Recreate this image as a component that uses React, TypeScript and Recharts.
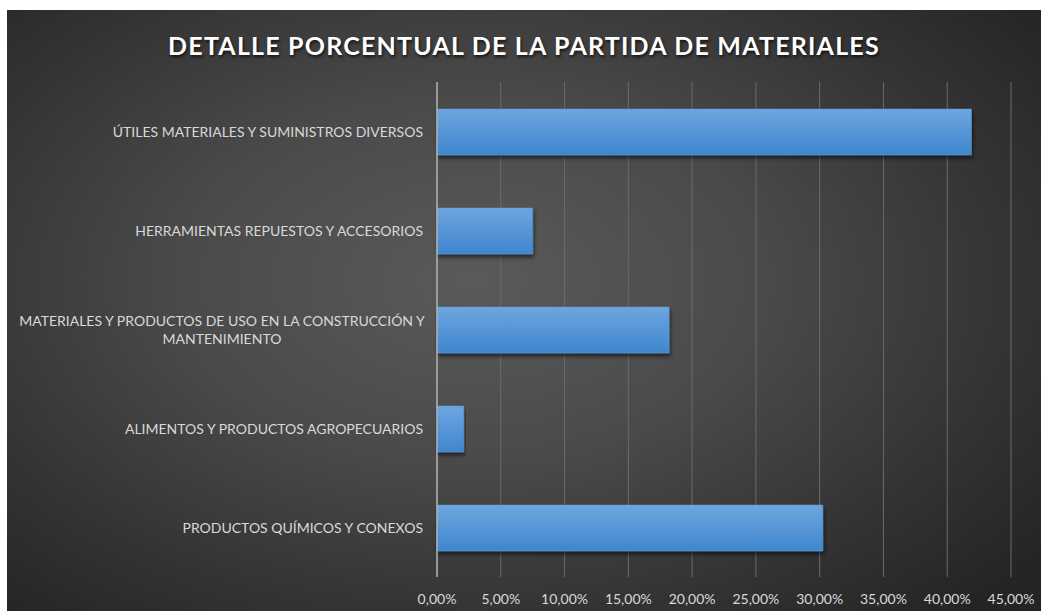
import { BarChart, Bar, XAxis, YAxis, CartesianGrid } from "recharts";

const categories = [
  "ÚTILES MATERIALES Y SUMINISTROS DIVERSOS",
  "HERRAMIENTAS REPUESTOS Y ACCESORIOS",
  "MATERIALES Y PRODUCTOS DE USO EN LA CONSTRUCCIÓN Y MANTENIMIENTO",
  "ALIMENTOS Y PRODUCTOS AGROPECUARIOS",
  "PRODUCTOS QUÍMICOS Y CONEXOS",
];
const percentages = [41.9, 7.5, 18.2, 2.1, 30.25];
const xTicks = [0, 5, 10, 15, 20, 25, 30, 35, 40, 45];

// label lines, wrapped like the original
const labelLines: Record<string, string[]> = {
  "MATERIALES Y PRODUCTOS DE USO EN LA CONSTRUCCIÓN Y MANTENIMIENTO": [
    "MATERIALES Y PRODUCTOS DE USO EN LA CONSTRUCCIÓN Y",
    "MANTENIMIENTO",
  ],
};

const data = categories.map((name, i) => ({ name, value: percentages[i] }));

const FONT = "Lato, 'Open Sans', sans-serif";

const CategoryTick = (props: any) => {
  const { x, y, payload } = props;
  const lines = labelLines[payload.value];
  if (lines) {
    const cx = x - 207;
    return (
      <text fill="#d9d9d9" fontSize={14} fontFamily={FONT} textAnchor="middle">
        <tspan x={cx} y={y - 4}>{lines[0]}</tspan>
        <tspan x={cx} y={y + 14}>{lines[1]}</tspan>
      </text>
    );
  }
  return (
    <text x={x - 6} y={y + 5} fill="#d9d9d9" fontSize={14} fontFamily={FONT} textAnchor="end">
      {payload.value}
    </text>
  );
};

const fmt = (v: number) => `${v.toFixed(2).replace(".", ",")}%`;

export default function App() {
  return (
    <div
      style={{
        position: "absolute",
        left: 7,
        top: 10,
        width: 1034,
        height: 601,
        background:
          "radial-gradient(ellipse 70% 75% at 45% 45%, #5a5a5a 0%, #4a4a4a 40%, #333333 75%, #242424 100%)",
        overflow: "hidden",
      }}
    >
      <div
        style={{
          position: "absolute",
          top: 20,
          left: 0,
          width: 1034,
          textAlign: "center",
          color: "#ffffff",
          fontFamily: FONT,
          fontWeight: 700,
          fontSize: 25,
          letterSpacing: 1.2,
          textShadow: "1px 2px 3px rgba(0,0,0,0.7)",
        }}
      >
        DETALLE PORCENTUAL DE LA PARTIDA DE MATERIALES
      </div>
      <BarChart
        width={1034}
        height={601}
        layout="vertical"
        data={data}
        margin={{ top: 72, right: 30, left: 0, bottom: 0 }}
        barSize={46}
        style={{ position: "absolute", left: 0, top: 0 }}
      >
        <defs>
          <linearGradient id="barFill" x1="0" y1="0" x2="0" y2="1">
            <stop offset="0%" stopColor="#6ea6de" />
            <stop offset="100%" stopColor="#3f86cf" />
          </linearGradient>
          <filter id="barShadow" x="-5%" y="-20%" width="110%" height="150%">
            <feDropShadow dx="1" dy="3" stdDeviation="2" floodColor="#000" floodOpacity="0.6" />
          </filter>
        </defs>
        <CartesianGrid horizontal={false} stroke="#6b6b6b" strokeWidth={1} />
        <XAxis
          type="number"
          domain={[0, 45]}
          ticks={xTicks}
          tickFormatter={fmt}
          axisLine={false}
          tickLine={false}
          height={34}
          tick={{ fill: "#d9d9d9", fontSize: 14, fontFamily: FONT, dy: 9 }}
          interval={0}
        />
        <YAxis
          type="category"
          dataKey="name"
          width={430}
          tickLine={false}
          tickSize={0}
          tickMargin={8}
          axisLine={{ stroke: "#b0b0b0", strokeWidth: 1.5 }}
          tick={<CategoryTick />}
          interval={0}
        />
        <Bar
          dataKey="value"
          fill="url(#barFill)"
          stroke="#5b9bd5"
          strokeWidth={0.5}
          filter="url(#barShadow)"
          isAnimationActive={false}
        />
      </BarChart>
    </div>
  );
}
